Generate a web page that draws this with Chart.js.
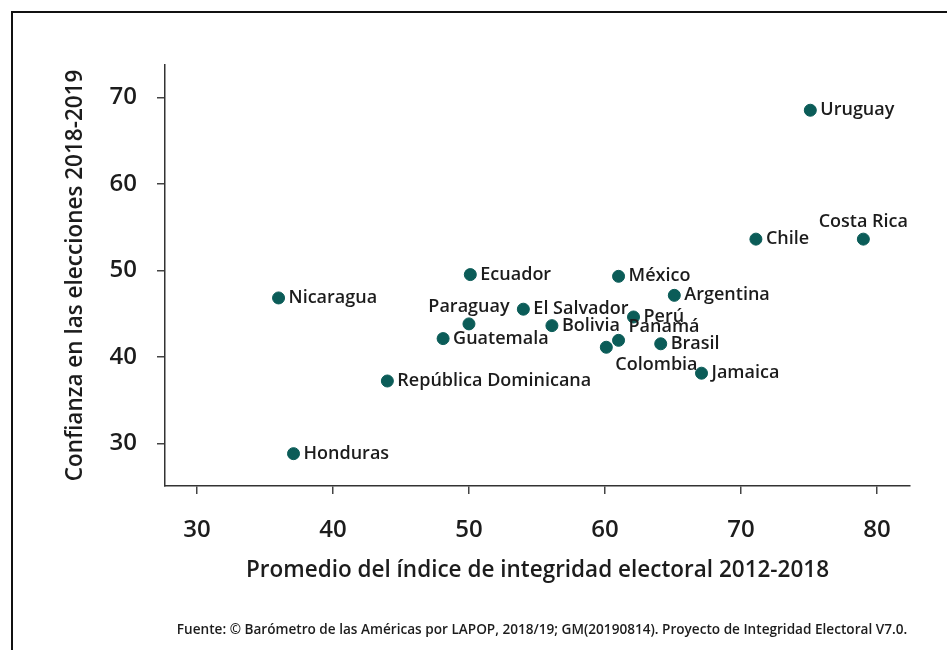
<!DOCTYPE html>
<html>
<head>
<meta charset="utf-8">
<script src="https://cdn.jsdelivr.net/npm/chart.js@4.4.1/dist/chart.umd.min.js"></script>
<style>
  html, body { margin: 0; padding: 0; background: #fff; }
  #wrap { position: relative; width: 947px; height: 650px; }
</style>
</head>
<body>
<div id="wrap"><canvas id="scatterChart" width="947" height="650"></canvas></div>
<script>
// Country names and values
const countries = ['Uruguay', 'Costa Rica', 'Chile', 'Ecuador', 'México', 'Nicaragua', 'Argentina',
    'Paraguay', 'El Salvador', 'Perú', 'Bolivia', 'Panamá', 'Guatemala', 'Colombia', 'Brasil',
    'Jamaica', 'República Dominicana', 'Honduras'];
const integrityIndex = [75.1, 79.0, 71.1, 50.1, 61.0, 36.0, 65.1,
    50.0, 54.0, 62.1, 56.1, 61.0, 48.1, 60.1, 64.1,
    67.1, 44.0, 37.1];
const electionTrust = [68.5, 53.6, 53.6, 49.5, 49.3, 46.8, 47.1,
    43.8, 45.5, 44.6, 43.6, 41.9, 42.1, 41.1, 41.5,
    38.1, 37.2, 28.8];
const xTicks = [30, 40, 50, 60, 70, 80];
const yTicks = [30, 40, 50, 60, 70];

const xTitle = 'Promedio del índice de integridad electoral 2012-2018';
const yTitle = 'Confianza en las elecciones 2018-2019';
const sourceNote = 'Fuente: © Barómetro de las Américas por LAPOP, 2018/19; GM(20190814). Proyecto de Integridad Electoral V7.0.';

// where the label goes relative to its dot (default: right)
const labelPlacement = {
    'Costa Rica': 'above',
    'Paraguay': 'above',
    'Panamá': 'upRight',
    'Colombia': 'downRight'
};

const textColor = '#1c1c1c';
const dotColor = '#0b5c58';

const points = countries.map((name, i) => ({ x: integrityIndex[i], y: electionTrust[i], name: name }));

const frame = {
    id: 'frame',
    beforeDraw(chart) {
        const ctx = chart.ctx;
        ctx.save();
        ctx.fillStyle = '#fff';
        ctx.fillRect(0, 0, chart.width, chart.height);
        ctx.strokeStyle = '#111';
        ctx.lineWidth = 2;
        ctx.beginPath();
        ctx.moveTo(12, chart.height);
        ctx.lineTo(12, 12);
        ctx.lineTo(chart.width, 12);
        ctx.stroke();
        ctx.restore();
    }
};

const countryLabels = {
    id: 'countryLabels',
    afterDatasetsDraw(chart) {
        const ctx = chart.ctx;
        const meta = chart.getDatasetMeta(0);
        ctx.save();
        ctx.font = '600 18px "Open Sans"';
        ctx.fillStyle = textColor;
        meta.data.forEach((el, i) => {
            const name = countries[i];
            const place = labelPlacement[name] || 'right';
            let x = el.x, y = el.y;
            if (place === 'above') {
                ctx.textAlign = 'center';
                y -= 17;
            } else if (place === 'upRight') {
                ctx.textAlign = 'left';
                x += 10;
                y -= 13;
            } else if (place === 'downRight') {
                ctx.textAlign = 'left';
                x += 9;
                y += 18;
            } else {
                ctx.textAlign = 'left';
                x += 10;
            }
            ctx.textBaseline = 'middle';
            ctx.fillText(name, x, y);
        });

        // source line
        ctx.font = '600 13.6px "Open Sans"';
        ctx.textAlign = 'center';
        ctx.textBaseline = 'middle';
        ctx.fillText(sourceNote, 542, 630);
        ctx.restore();
    }
};

new Chart(document.getElementById('scatterChart'), {
    type: 'scatter',
    data: {
        datasets: [{
            data: points,
            backgroundColor: dotColor,
            borderColor: dotColor,
            pointRadius: 6,
            pointHoverRadius: 6
        }]
    },
    options: {
        responsive: false,
        animation: false,
        layout: { padding: { left: 62, top: 65, right: 37, bottom: 66 } },
        plugins: {
            legend: { display: false },
            tooltip: { enabled: false }
        },
        scales: {
            x: {
                type: 'linear',
                min: 27.65,
                max: 82.43,
                afterBuildTicks: axis => { axis.ticks = xTicks.map(v => ({ value: v })); },
                afterFit: axis => { axis.height = 98; },
                ticks: {
                    padding: 22,
                    color: textColor,
                    font: { family: 'Open Sans', size: 24, weight: '600' }
                },
                grid: { drawOnChartArea: false, drawTicks: true, tickLength: 8, color: '#444', lineWidth: 1.5 },
                border: { display: true, color: '#333', width: 1.5 },
                title: {
                    display: true,
                    text: xTitle,
                    color: textColor,
                    font: { family: 'Open Sans', size: 22.5, weight: '600' },
                    padding: 0
                }
            },
            y: {
                type: 'linear',
                min: 25.06,
                max: 73.73,
                afterBuildTicks: axis => { axis.ticks = yTicks.map(v => ({ value: v })); },
                afterFit: axis => { axis.width = 103; },
                ticks: {
                    padding: 20,
                    color: textColor,
                    font: { family: 'Open Sans', size: 24, weight: '600' }
                },
                grid: { drawOnChartArea: false, drawTicks: true, tickLength: 8, color: '#444', lineWidth: 1.5 },
                border: { display: true, color: '#333', width: 1.5 },
                title: {
                    display: true,
                    text: yTitle,
                    color: textColor,
                    font: { family: 'Open Sans', size: 22.5, weight: '600' },
                    padding: 0
                }
            }
        }
    },
    plugins: [frame, countryLabels]
});
</script>
</body>
</html>
